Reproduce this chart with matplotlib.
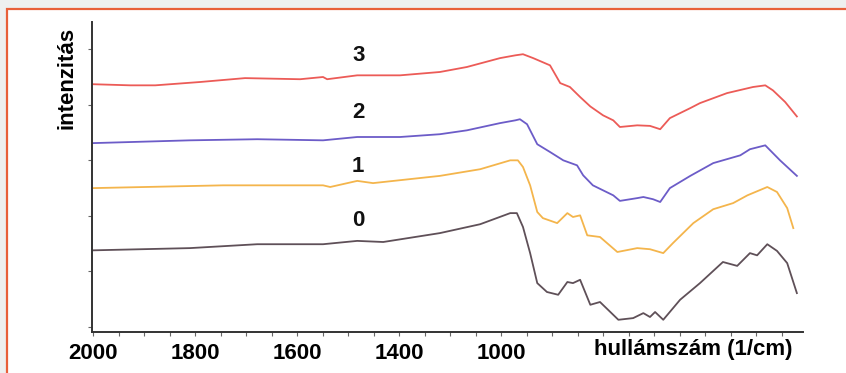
import matplotlib
matplotlib.use("Agg")
import matplotlib.pyplot as plt
from matplotlib.patches import Rectangle
from matplotlib.ticker import MultipleLocator

# wavenumber (1/cm) and intensity (arbitrary, stacked)
x3 = [2000, 1927, 1878, 1790, 1702, 1594, 1549, 1541, 1482, 1398, 1320, 1267, 1202, 1172, 1157, 1137,
      1104, 1084, 1065, 1045, 1025, 1000, 980, 967, 933, 908, 888, 869, 829, 810, 757, 706, 682, 667, 643, 620]
y3 = [4.37, 4.35, 4.35, 4.41, 4.48, 4.46, 4.50, 4.46, 4.53, 4.53, 4.59, 4.68, 4.84, 4.89, 4.91, 4.84,
      4.71, 4.39, 4.32, 4.14, 3.97, 3.81, 3.72, 3.60, 3.63, 3.62, 3.56, 3.76, 3.94, 4.03, 4.21, 4.32, 4.35, 4.26, 4.05, 3.79]

x2 = [2000, 1810, 1678, 1549, 1482, 1398, 1320, 1267, 1202, 1172, 1163, 1149, 1129, 1104, 1078, 1051, 1039,
      1020, 1000, 980, 967, 933, 921, 902, 888, 869, 829, 784, 731, 712, 682, 653, 620]
y2 = [3.31, 3.36, 3.38, 3.36, 3.42, 3.42, 3.47, 3.54, 3.67, 3.72, 3.74, 3.65, 3.29, 3.15, 3.00, 2.91, 2.73,
      2.55, 2.46, 2.37, 2.27, 2.32, 2.34, 2.30, 2.25, 2.50, 2.72, 2.95, 3.09, 3.20, 3.27, 3.00, 2.72]

x1 = [2000, 1745, 1549, 1535, 1482, 1451, 1320, 1241, 1182, 1167, 1157, 1143, 1129, 1118, 1090, 1070, 1059,
      1045, 1031, 1006, 972, 933, 908, 882, 863, 823, 784, 745, 717, 678, 659, 639, 627]
y1 = [2.50, 2.55, 2.55, 2.52, 2.63, 2.59, 2.72, 2.84, 3.00, 3.00, 2.88, 2.55, 2.07, 1.96, 1.87, 2.05, 1.98,
      2.01, 1.65, 1.62, 1.35, 1.42, 1.40, 1.33, 1.51, 1.87, 2.12, 2.23, 2.37, 2.52, 2.43, 2.14, 1.78]

x0 = [2000, 1810, 1678, 1549, 1482, 1431, 1320, 1241, 1182, 1169, 1157, 1143, 1129, 1110, 1088, 1070, 1059, 1045,
      1025, 1006, 970, 941, 921, 908, 898, 882, 849, 810, 765, 737, 712, 698, 678, 659, 639, 620]
y0 = [1.38, 1.42, 1.49, 1.49, 1.55, 1.53, 1.69, 1.85, 2.05, 2.05, 1.80, 1.33, 0.79, 0.63, 0.58, 0.81, 0.79, 0.85,
      0.40, 0.45, 0.13, 0.16, 0.25, 0.18, 0.27, 0.13, 0.49, 0.79, 1.17, 1.10, 1.33, 1.29, 1.49, 1.37, 1.15, 0.61]

series = [(x0, y0, "0", "#5f5058"), (x1, y1, "1", "#f4b54c"),
          (x2, y2, "2", "#6c5cc8"), (x3, y3, "3", "#ec5b57")]
label_y = [1.92, 2.88, 3.87, 4.89]
label_x = 1480

xtick_pos = [2000, 1800, 1600, 1400, 1200]
xtick_labels = ["2000", "1800", "1600", "1400", "1000"]

plt.rcParams["font.family"] = ["Liberation Sans", "DejaVu Sans"]

fig = plt.figure(figsize=(8.46, 3.73), dpi=100)
fig.patch.set_facecolor("#eef0f0")
frame = Rectangle((7 / 846, -0.1), 1.2, 1.1 - 9 / 373, transform=fig.transFigure,
                  facecolor="white", edgecolor="#e8603a", linewidth=1.6, zorder=-5)
fig.add_artist(frame)

ax = fig.add_axes([92 / 846, 41 / 373, 711 / 846, 310 / 373])
ax.set_facecolor("none")

for (xs, ys, name, col), ly in zip(series, label_y):
    ax.plot(xs, ys, color=col, linewidth=1.3)
    ax.text(label_x, ly, name, ha="center", va="center", fontsize=16, fontweight="bold", color="#111111")

ax.set_xlim(2002, 608)
ax.set_ylim(-0.09, 5.49)
ax.set_xticks(xtick_pos)
ax.set_xticklabels(xtick_labels)
ax.xaxis.set_minor_locator(MultipleLocator(50))
ax.set_yticks(range(6))
ax.set_yticklabels([])
ax.tick_params(axis="both", which="both", direction="out", length=3, width=0.8, color="#666666")
ax.tick_params(axis="x", labelsize=16, pad=5)
for t in ax.get_xticklabels():
    t.set_fontweight("bold")

for s in ["top", "right"]:
    ax.spines[s].set_visible(False)
for s in ["left", "bottom"]:
    ax.spines[s].set_color("#333333")
    ax.spines[s].set_linewidth(1.4)

ax.set_xlabel("hullámszám (1/cm)", fontsize=16, fontweight="bold", va="center")
ax.xaxis.set_label_coords(0.845, -0.058)
ax.set_ylabel("intenzitás", fontsize=16, fontweight="bold", rotation_mode="anchor", ha="right", va="center")
ax.yaxis.set_label_coords(-0.035, 0.984)

plt.savefig("out.png", dpi=100, facecolor=fig.get_facecolor())
